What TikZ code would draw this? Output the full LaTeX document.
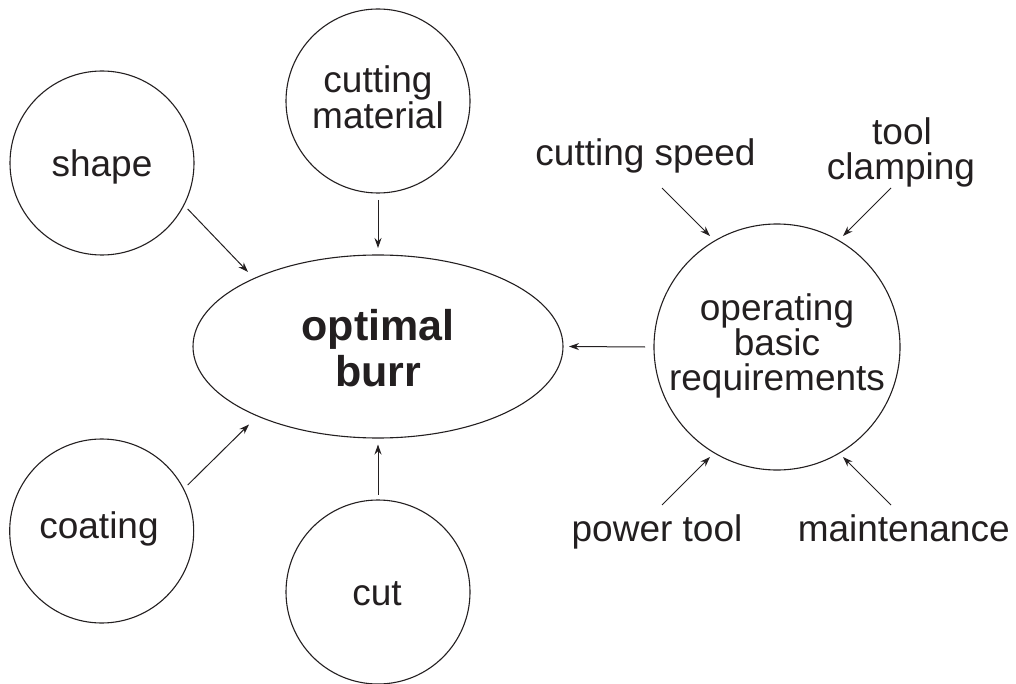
\documentclass[tikz,border=0pt]{standalone}
\usepackage{fontspec}
\setmainfont{Liberation Sans}
\usetikzlibrary{shapes.geometric,arrows.meta}
\definecolor{ink}{RGB}{35,31,32}
\begin{document}
\begin{tikzpicture}[x=1pt,y=-1pt,
  ring/.style={draw=ink,line width=1.1pt,circle,inner sep=0pt,minimum size=#1},
  txt/.style={anchor=base,inner sep=0pt,text=ink,font=\fontsize{37}{42}\selectfont},
  bigtxt/.style={anchor=base,inner sep=0pt,text=ink,font=\fontsize{43}{48}\selectfont\bfseries},
  arr/.style={draw=ink,line width=1pt,-{Stealth[length=10pt,width=7pt]}}]
\useasboundingbox (0,0) rectangle (1016,684);

% circles and ellipse
\node[ring=184pt] (shape) at (102,163) {};
\node[ring=184pt] (cutmat) at (378,101) {};
\node[ring=184pt] (coating) at (101.7,531) {};
\node[ring=184pt] (cut) at (378,592) {};
\node[ring=246pt] (opreq) at (777,347) {};
\node[draw=ink,line width=1.1pt,ellipse,inner sep=0pt,minimum width=370pt,minimum height=183pt] (burr) at (378,346.5) {};

% texts
\node[txt] (tshape) at (102,176.7) {shape};
\node[txt] (tcm1) at (378,92.7) {cutting};
\node[txt] (tcm2) at (378,128.3) {material};
\node[txt] (tcoat) at (99,538.7) {coating};
\node[txt] (tcut) at (377,605.3) {cut};
\node[bigtxt] (tb1) at (378,340) {optimal};
\node[bigtxt] (tb2) at (378,386.7) {burr};
\node[txt] (to1) at (777,320.7) {operating};
\node[txt] (to2) at (777,355.7) {basic};
\node[txt] (to3) at (777,390) {requirements};
\node[txt] (cspeed) at (645.5,166) {cutting speed};
\node[txt] (tool) at (902,145) {tool};
\node[txt] (clamp) at (901,180) {clamping};
\node[txt] (power) at (657,541.7) {power tool};
\node[txt] (maint) at (903.7,541.7) {maintenance};

% arrows to the burr
\draw[arr] ([shift={(85.7,46)}]shape.center) -- ([shift={(-130,-74.5)}]burr.center);
\draw[arr] ([shift={(0,99)}]cutmat.center) -- ([shift={(0,-98.5)}]burr.center);
\draw[arr] ([shift={(86,-46)}]coating.center) -- ([shift={(-129,78)}]burr.center);
\draw[arr] ([shift={(0,-97.3)}]cut.center) -- ([shift={(0,98)}]burr.center);
\draw[arr] ([shift={(-132,0)}]opreq.center) -- ([shift={(191,0)}]burr.center);

% arrows to operating basic requirements
\draw[arr] ([shift={(16.5,22)}]cspeed.base) -- ([shift={(-67,-111)}]opreq.center);
\draw[arr] ([shift={(-10,8)}]clamp.base) -- ([shift={(66,-111)}]opreq.center);
\draw[arr] ([shift={(5,-36.7)}]power.base) -- ([shift={(-67,110)}]opreq.center);
\draw[arr] ([shift={(-12.7,-36.7)}]maint.base) -- ([shift={(66,110)}]opreq.center);
\end{tikzpicture}
\end{document}
